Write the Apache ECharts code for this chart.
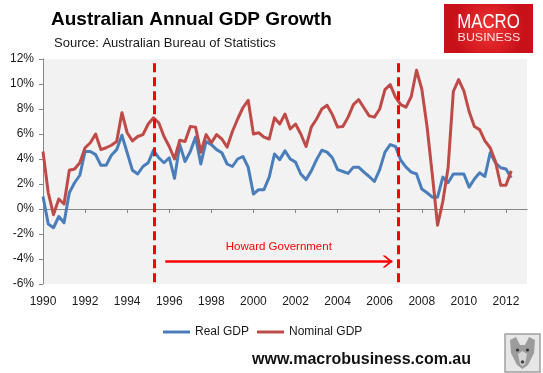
<!DOCTYPE html>
<html><head><meta charset="utf-8">
<script src="https://cdn.jsdelivr.net/npm/echarts@6/dist/echarts.min.js"></script>
<style>html,body{margin:0;padding:0;background:#fff}#c{width:543px;height:373px}</style>
</head><body><div id="c"></div>
<script>
// ---- data (quarterly, annual % growth), first point = 1990 Q1 ----
const startYear = 1990;
const seriesNames = ['Real GDP', 'Nominal GDP'];
const realGDP = [
  1.0, -1.2, -1.5, -0.6, -1.1, 1.3, 2.1, 2.7, 4.6, 4.6, 4.35, 3.5,
  3.5, 4.3, 4.75, 5.9, 4.5, 3.1, 2.8, 3.4, 3.7, 4.7, 4.1, 3.7,
  4.1, 2.45, 5.15, 3.8, 4.6, 5.75, 3.6, 5.4, 5.15, 4.75, 4.5, 3.6,
  3.4, 4.0, 4.2, 3.35, 1.2, 1.55, 1.55, 2.55, 4.4, 3.95, 4.65, 4.0,
  3.75, 2.8, 2.35, 3.05, 3.95, 4.7, 4.55, 4.1, 3.15, 3.0, 2.85, 3.35,
  3.35, 2.95, 2.6, 2.2, 3.15, 4.55, 5.15, 5.0, 3.9, 3.35, 2.95, 2.8,
  1.6, 1.3, 0.95, 0.95, 2.55, 2.1, 2.8, 2.8, 2.8, 1.75, 2.4, 2.9,
  2.6, 4.5, 3.7, 3.3, 3.2, 2.5
];
const nominalGDP = [
  4.6, 1.3, -0.45, 0.8, 0.4, 3.1, 3.2, 3.7, 4.9, 5.3, 6.0, 4.75,
  4.9, 5.1, 5.4, 7.7, 6.1, 5.45, 5.8, 5.95, 6.8, 7.3, 6.9, 5.8,
  5.0, 4.0, 5.5, 5.4, 6.6, 6.55, 4.55, 5.95, 5.3, 5.95, 5.6, 4.95,
  6.2, 7.2, 8.1, 8.7, 6.0, 6.1, 5.75, 5.6, 7.3, 6.8, 7.6, 6.4,
  6.8, 6.0, 5.0, 6.55, 7.2, 8.0, 8.3, 7.55, 6.55, 6.6, 7.35, 8.35,
  8.75, 8.1, 7.45, 7.35, 8.0, 9.55, 9.95, 8.95, 8.35, 8.15, 9.0, 11.1,
  9.6, 6.6, 2.75, -1.3, 0.6, 3.3, 9.4, 10.35, 9.45, 7.8, 6.6, 6.35,
  5.45, 4.9, 3.8, 1.9, 1.9, 3.05
];
const yearLabels = [1990, 1992, 1994, 1996, 1998, 2000, 2002, 2004, 2006, 2008, 2010, 2012];
const yearTicks = [1992, 1994, 1996, 1998, 2000, 2002, 2004, 2006, 2008, 2010, 2012];
// annotation (Howard Government period markers, in axis units)
const howardStart = 1995.27;
const howardEnd = 2006.87;
const arrowFrom = 1995.81;
const arrowTo = 2006.6;
const arrowHead = 2006.37;
const arrowLevel = -4.2;
const annotationText = 'Howard Government';

const fam = "'Liberation Sans', Arial, sans-serif";
const toPairs = arr => arr.map((v, i) => [startYear + i / 4, v]);
const chevron = 'path://M0,0 L3,0 L11,8 L3,16 L0,16 L8,8 Z';

const chart = echarts.init(document.getElementById('c'), null, {renderer: 'canvas'});
chart.setOption({
  animation: false,
  backgroundColor: '#ffffff',
  title: [
    {text: 'Australian Annual GDP Growth', left: 51, top: 10, padding: 0,
     textStyle: {fontFamily: fam, fontWeight: 'bold', fontSize: 19, color: '#000'}},
    {text: 'Source: Australian Bureau of Statistics', left: 54, top: 37, padding: 0,
     textStyle: {fontFamily: fam, fontWeight: 'normal', fontSize: 13, color: '#1a1a1a'}}
  ],
  legend: {
    data: seriesNames, left: 163, top: 326, padding: 0, itemWidth: 27, itemHeight: 3,
    itemGap: 8, icon: 'rect', selectedMode: false,
    textStyle: {fontFamily: fam, fontSize: 12, color: '#1a1a1a'}
  },
  grid: {left: 43, right: 16, top: 59, bottom: 89, show: true, backgroundColor: '#f2f2f2', borderWidth: 0},
  xAxis: [
    {type: 'value', min: 1990, max: 2013, interval: 2, position: 'bottom',
     axisLine: {show: false}, axisTick: {show: false}, splitLine: {show: false},
     axisLabel: {customValues: yearLabels, margin: 12, fontFamily: fam, fontSize: 12, color: '#1a1a1a',
                 formatter: v => String(v)}},
    {type: 'value', min: 1990, max: 2013, interval: 2, position: 'bottom',
     axisLine: {show: true, onZero: true, onZeroAxisIndex: 0, lineStyle: {color: '#868686', width: 1}},
     axisTick: {show: true, customValues: yearTicks, length: 4, lineStyle: {color: '#868686'}},
     axisLabel: {show: false}, splitLine: {show: false}}
  ],
  yAxis: {
    type: 'value', min: -6, max: 12, interval: 2,
    axisLine: {show: true, onZero: false, lineStyle: {color: '#868686', width: 1}},
    axisTick: {show: true, length: 4, lineStyle: {color: '#868686'}},
    splitLine: {show: false},
    axisLabel: {formatter: v => v + '%', margin: 9, fontFamily: fam, fontSize: 12, color: '#1a1a1a'}
  },
  series: [
    {name: seriesNames[0], type: 'line', xAxisIndex: 0, data: toPairs(realGDP), symbol: 'none',
     lineStyle: {color: '#4a7ebb', width: 3, join: 'round'}, itemStyle: {color: '#4a7ebb'},
     emphasis: {disabled: true}, z: 2},
    {name: seriesNames[1], type: 'line', xAxisIndex: 0, data: toPairs(nominalGDP), symbol: 'none',
     lineStyle: {color: '#be4b48', width: 3, join: 'round'}, itemStyle: {color: '#be4b48'},
     emphasis: {disabled: true}, z: 3,
     markLine: {
       silent: true, symbol: ['none', 'none'], animation: false,
       label: {show: false},
       lineStyle: {color: '#ff0000', width: 3, type: [9, 5]},
       emphasis: {disabled: true},
       data: [
         [{coord: [howardStart, -5.85]}, {coord: [howardStart, 11.75]}],
         [{coord: [howardEnd, -5.85]}, {coord: [howardEnd, 11.75]}],
         [{coord: [arrowFrom, arrowLevel], lineStyle: {type: 'solid', width: 2.5, color: '#ff0000'},
           label: {show: true, formatter: annotationText, position: 'insideMiddleTop', distance: 9,
                   color: '#ff0000', fontFamily: fam, fontSize: 11.5}},
          {coord: [arrowTo, arrowLevel]}]
       ]
     },
     markPoint: {
       silent: true, animation: false,
       data: [{coord: [arrowHead, arrowLevel], symbol: chevron, symbolSize: [10, 12],
               itemStyle: {color: '#ff0000'}, label: {show: false}}]
     }}
  ],
  graphic: [
    {type: 'rect', x: 444, y: 4, shape: {width: 89, height: 49},
     style: {fill: {type: 'radial', x: 0.5, y: 0.5, r: 0.75,
       colorStops: [{offset: 0, color: '#f23434'}, {offset: 1, color: '#c81018'}]}}},
    {type: 'text', x: 488.5, y: 22, scaleX: 0.84,
     style: {text: 'MACRO', fill: '#ffffff', font: 'normal 20px ' + fam,
              align: 'center', verticalAlign: 'middle', textAlign: 'center', textVerticalAlign: 'middle'}},
    {type: 'text', x: 489, y: 37.5, scaleX: 1.08,
     style: {text: 'BUSINESS', fill: '#fbe0e0', font: 'normal 11.5px ' + fam,
              align: 'center', verticalAlign: 'middle', textAlign: 'center', textVerticalAlign: 'middle'}},
    {type: 'text', x: 252, y: 360,
     style: {text: 'www.macrobusiness.com.au', fill: '#111', font: 'bold 16px ' + fam,
              align: 'left', verticalAlign: 'middle', textAlign: 'left', textVerticalAlign: 'middle'}},
    {type: 'group', x: 505, y: 334, children: [
      {type: 'rect', shape: {x: 0, y: 0, width: 35, height: 38},
       style: {fill: '#e6e6e6', stroke: '#a0a0a0', lineWidth: 1.5}},
      {type: 'polygon', shape: {points: [[5, 6], [11, 3], [15, 11], [20, 11], [24, 3], [30, 6], [29, 19], [23, 31], [17.5, 35], [12, 31], [6, 19]]},
       style: {fill: '#9c9c9c'}},
      {type: 'polygon', shape: {points: [[13, 20], [17.5, 17], [22, 20], [20, 30], [17.5, 32], [15, 30]]},
       style: {fill: '#d4d4d4'}},
      {type: 'circle', shape: {cx: 12.5, cy: 16, r: 1.6}, style: {fill: '#333'}},
      {type: 'circle', shape: {cx: 22.5, cy: 16, r: 1.6}, style: {fill: '#333'}},
      {type: 'circle', shape: {cx: 17.5, cy: 28, r: 1.8}, style: {fill: '#444'}}
    ]}
  ]
});
</script>
</body></html>
